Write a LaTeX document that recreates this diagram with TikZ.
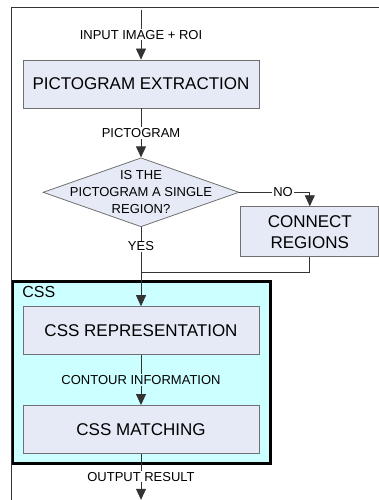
\documentclass[tikz,border=0pt]{standalone}
\usepackage{fontspec}
\setmainfont{Liberation Sans}
\usetikzlibrary{arrows.meta,positioning,shapes.geometric,fit,calc,backgrounds}
\definecolor{boxfill}{RGB}{230,234,246}
\definecolor{boxline}{RGB}{112,112,112}
\definecolor{cssfill}{RGB}{204,255,255}

\begin{document}
\begin{tikzpicture}[
	process/.style={rectangle,draw=boxline,fill=boxfill,line width=0.8pt,inner sep=0pt,minimum width=236pt,minimum height=48pt,font=\fontsize{17}{21}\selectfont,align=center},
	decision/.style={diamond,draw=boxline,fill=boxfill,line width=0.8pt,inner sep=0pt,minimum width=196pt,minimum height=69pt},
	dtext/.style={inner sep=0pt,align=center,font=\fontsize{13}{17}\selectfont},
	group/.style={rectangle,draw=black,fill=cssfill,line width=3pt,inner sep=0pt},
	flow/.style={font=\fontsize{13}{17}\selectfont,fill=white,inner xsep=1pt,inner ysep=1pt},
	paths/.style={-{Triangle[width=10pt,length=11pt]}, line width=0.8pt, draw=black!80},
	lines/.style={line width=0.8pt, draw=black!80}
	]
\useasboundingbox (0pt,0pt) rectangle (379pt,-500pt);
\draw [lines] (379pt,-7pt) -- (11pt,-7pt) -- (11pt,-500pt);

\node [process] (extr) at (141pt,-84pt) {PICTOGRAM EXTRACTION};
\node [decision] (dec) [below = 49pt of extr] {};
\node [dtext] (qtext) at (dec) {IS THE\\PICTOGRAM A SINGLE\\REGION?};
\node [process, minimum width=138pt, minimum height=50pt] (conn) [below right = 14pt and 1pt of dec.east] {CONNECT\\REGIONS};

\node [process] (rep) [below = 79pt of dec] {CSS REPRESENTATION};
\node [process] (match) [below = 50pt of rep] {CSS MATCHING};

% CSS block behind the two boxes
\begin{scope}[on background layer]
\node [group, fit={($(rep.north west)+(-10pt,25pt)$) ($(match.south east)+(11pt,-10pt)$)}] (css) {};
\end{scope}
\node [anchor=north west, font=\fontsize{16}{19}\selectfont, inner sep=0pt] (csslabel) at ($(css.north west)+(11pt,-6pt)$) {CSS};

\coordinate [above = 50pt of extr.north] (in);
\coordinate [below = 45pt of dec.south] (merge);
\coordinate [below = 46pt of match.south] (out);

\draw [paths] (in) -- node [flow] {INPUT IMAGE + ROI} (extr);
\draw [paths] (extr) -- node [flow] {PICTOGRAM} (dec);
\draw [paths] (dec.east) -| node [flow, pos=0.31] {NO} (conn.north);
\draw [paths] (dec) -- node [flow, pos=0.24] {YES} (rep);
\draw [lines] (conn.south) |- (merge);
\draw [paths] (rep) -- node [flow, fill=cssfill] {CONTOUR INFORMATION} (match);
\draw [paths] (match) -- node [flow] {OUTPUT RESULT} (out);
\end{tikzpicture}
\end{document}
